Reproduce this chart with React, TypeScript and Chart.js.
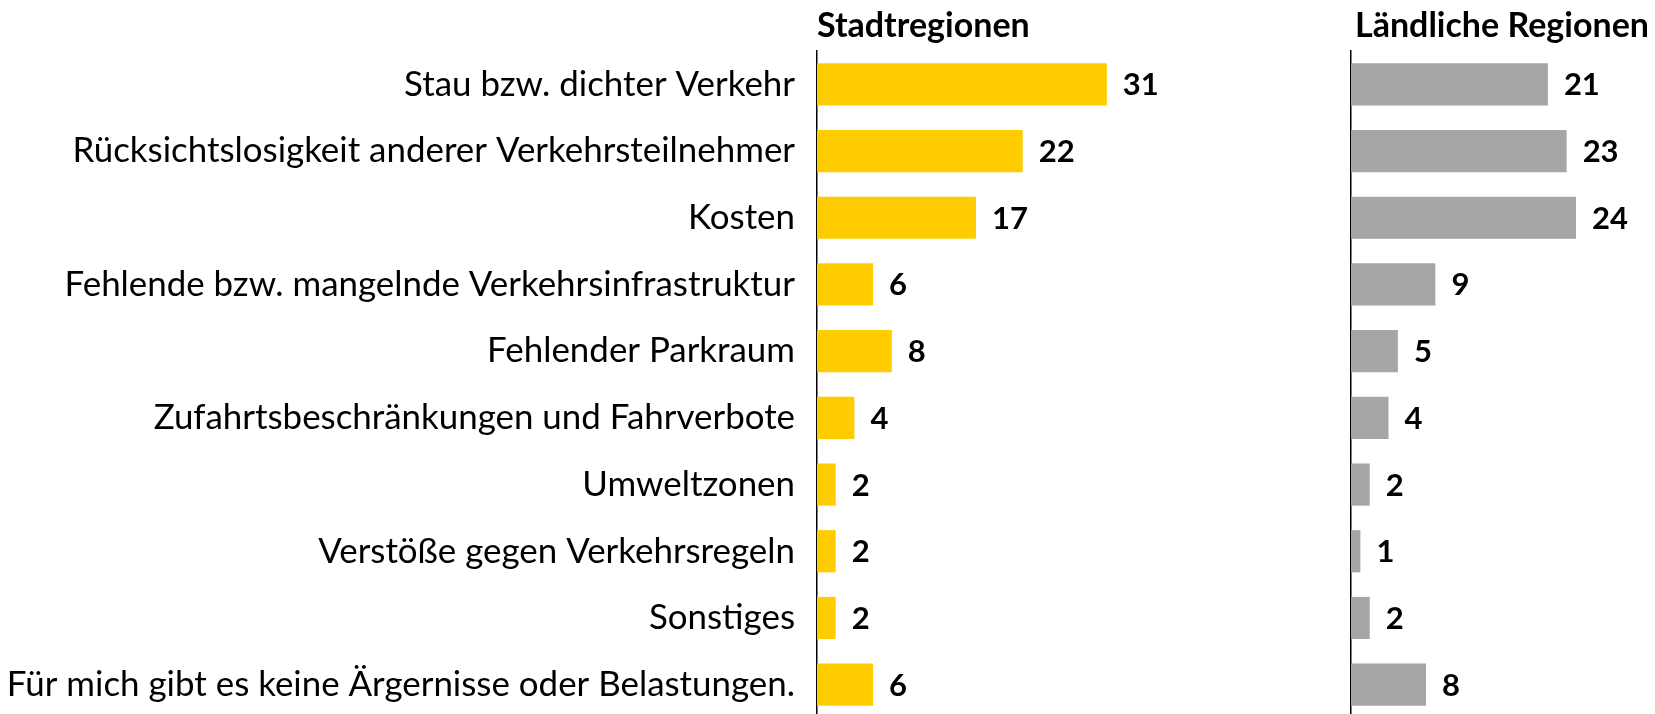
import React, { useEffect, useRef } from "react";
import { Chart, registerables } from "chart.js";

Chart.register(...registerables);

const categories = [
  "Stau bzw. dichter Verkehr",
  "Rücksichtslosigkeit anderer Verkehrsteilnehmer",
  "Kosten",
  "Fehlende bzw. mangelnde Verkehrsinfrastruktur",
  "Fehlender Parkraum",
  "Zufahrtsbeschränkungen und Fahrverbote",
  "Umweltzonen",
  "Verstöße gegen Verkehrsregeln",
  "Sonstiges",
  "Für mich gibt es keine Ärgernisse oder Belastungen.",
];
const stadtValues = [31, 22, 17, 6, 8, 4, 2, 2, 2, 6];
const landValues = [21, 23, 24, 9, 5, 4, 2, 1, 2, 8];
const panelTitles = ["Stadtregionen", "Ländliche Regionen"];

const FONT = "Lato, 'Open Sans', sans-serif";
const LABEL_SIZE = 34.9;
const VALUE_SIZE = 31;
const TITLE_SIZE = 34;
const CANVAS_H = 718;

function decoPlugin(title: string, titleOffset: number) {
  return {
    id: "deco",
    afterDatasetsDraw(chart: any) {
      const ctx = chart.ctx;
      const area = chart.chartArea;
      ctx.save();
      ctx.fillStyle = "#000";
      ctx.font = `bold ${TITLE_SIZE}px ${FONT}`;
      ctx.textAlign = "left";
      ctx.textBaseline = "alphabetic";
      ctx.fillText(title, area.left + titleOffset, 37);
      const meta = chart.getDatasetMeta(0);
      const data = chart.data.datasets[0].data;
      ctx.font = `bold ${VALUE_SIZE}px ${FONT}`;
      ctx.textBaseline = "middle";
      meta.data.forEach((el: any, i: number) => {
        ctx.fillText(String(data[i]), el.x + 16, el.y + 1);
      });
      ctx.restore();
    },
  };
}

function Panel(props: {
  values: number[];
  color: string;
  title: string;
  left: number;
  width: number;
  axisWidth: number;
  showLabels: boolean;
  max: number;
  padRight: number;
  titleOffset: number;
}) {
  const ref = useRef<HTMLCanvasElement>(null);
  useEffect(() => {
    if (!ref.current) return;
    const chart = new Chart(ref.current, {
      type: "bar",
      data: {
        labels: categories,
        datasets: [
          {
            data: props.values,
            backgroundColor: props.color,
            barPercentage: 0.632,
            categoryPercentage: 1,
          },
        ],
      },
      options: {
        indexAxis: "y",
        animation: false,
        responsive: false,
        devicePixelRatio: 1,
        layout: { padding: { top: 51, bottom: 0, left: 0, right: props.padRight } },
        plugins: {
          legend: { display: false },
          tooltip: { enabled: false },
          title: { display: false },
        },
        scales: {
          x: { display: false, min: 0, max: props.max },
          y: {
            display: true,
            grid: { display: false, drawTicks: false },
            border: { display: true, color: "#000", width: 1.5 },
            ticks: {
              display: props.showLabels,
              color: "#000",
              padding: 22,
              font: { family: FONT, size: LABEL_SIZE },
            },
            afterFit: (scale: any) => {
              scale.width = props.axisWidth;
              scale.paddingTop = 0;
              scale.paddingBottom = 0;
            },
          },
        },
      },
      plugins: [decoPlugin(props.title, props.titleOffset)],
    });
    return () => chart.destroy();
  }, []);
  return (
    <canvas
      ref={ref}
      width={props.width}
      height={CANVAS_H}
      style={{ position: "absolute", left: props.left, top: 0 }}
    />
  );
}

export default function App() {
  return (
    <div
      style={{
        position: "absolute",
        left: 0,
        top: 0,
        width: 1655,
        height: 714,
        overflow: "hidden",
        background: "#fff",
      }}
    >
      <Panel
        values={stadtValues}
        color="#FFCC00"
        title={panelTitles[0]}
        left={0}
        width={1200}
        axisWidth={817}
        showLabels={true}
        max={40}
        padRight={9}
        titleOffset={0}
      />
      <Panel
        values={landValues}
        color="#A6A6A6"
        title={panelTitles[1]}
        left={1200}
        width={455}
        axisWidth={151}
        showLabels={false}
        max={32}
        padRight={4}
        titleOffset={4}
      />
    </div>
  );
}
